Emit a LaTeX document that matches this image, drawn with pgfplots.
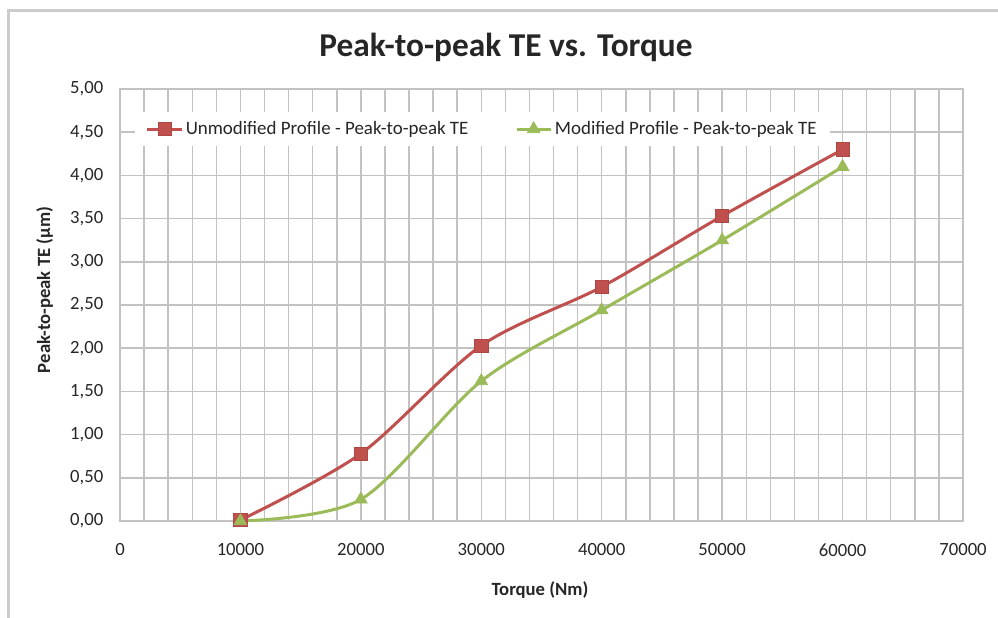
\documentclass[border=0pt]{standalone}
\usepackage{fontspec}
\setmainfont{Carlito}
\usepackage{pgfplots}
\pgfplotsset{compat=1.18}
\usetikzlibrary{calc}
\definecolor{redS}{HTML}{C0504D}
\definecolor{greenS}{HTML}{9BBB59}
\definecolor{gridc}{HTML}{C2C2C2}
\definecolor{framec}{HTML}{CCCCCC}
\definecolor{txt}{HTML}{262626}
\begin{document}
\begin{tikzpicture}
\begin{axis}[
  scale only axis, width=632.25pt, height=324pt,
  xmin=0, xmax=70000, ymin=0, ymax=5,
  xtick distance=10000, ytick distance=0.5,
  minor x tick num=4,
  xmajorgrids, xminorgrids, ymajorgrids,
  grid style={gridc, line width=1.1pt},
  minor grid style={gridc, line width=1.1pt},
  axis line style={gridc, line width=1.1pt},
  major tick length=0pt, minor tick length=0pt,
  scaled x ticks=false,
  tick label style={font=\fontsize{14}{17}\selectfont, text=txt},
  /pgf/number format/assume math mode=true,
  xticklabel style={/pgf/number format/1000 sep={}, yshift=-13.5pt},
  yticklabel style={/pgf/number format/.cd, fixed, fixed zerofill, precision=2, use comma, /tikz/.cd, xshift=-9pt},
  legend columns=2,
  legend style={at={(0.0178,0.947)}, anchor=north west, draw=none, fill=white,
    font=\fontsize{14.2}{17}\selectfont, text=txt, inner xsep=8pt, inner ysep=5pt,
    /tikz/every even column/.append style={column sep=33pt}},
  legend image code/.code={\draw[mark repeat=2, mark phase=2] plot coordinates {(0cm,0cm) (0.45cm,0cm) (0.9cm,0cm)};},
]
\coordinate (O) at (rel axis cs:0,0);
\addplot[redS, line width=2.25pt, smooth, tension=0.5, mark=square*, mark size=5pt, mark options={solid, fill=redS, draw=redS!90!black, line width=0.5pt}]
  coordinates {(10000,0.01) (20000,0.78) (30000,2.03) (40000,2.71) (50000,3.53) (60000,4.30)};
\addlegendentry{Unmodified Profile - Peak-to-peak TE}
\addplot[greenS, line width=2.25pt, smooth, tension=0.5, mark=triangle*, mark size=5.5pt, mark options={solid, fill=greenS, draw=greenS, line width=0.5pt}]
  coordinates {(10000,0.00) (20000,0.25) (30000,1.62) (40000,2.44) (50000,3.25) (60000,4.10)};
\addlegendentry{Modified Profile - Peak-to-peak TE}
\end{axis}
\coordinate (B) at ($(O)+(-90pt,-72pt)$);
\draw[framec, line width=2.25pt] ($(B)+(6.4pt,-2pt)$) -- ($(B)+(6.4pt,454.5pt)$) -- ($(B)+(752pt,454.5pt)$);
\node[anchor=base, font=\fontsize{25}{30}\selectfont\bfseries, text=txt] at ($(B)+(379.5pt,420pt)$) {Peak-to-peak TE vs. Torque};
\node[anchor=base, font=\fontsize{14}{17}\selectfont\bfseries, text=txt] at ($(B)+(405pt,16.5pt)$) {Torque (Nm)};
\node[rotate=90, font=\fontsize{14}{17}\selectfont\bfseries, text=txt] at ($(B)+(33.5pt,245.25pt)$) {Peak-to-peak TE (µm)};
\pgfresetboundingbox
\path[use as bounding box] (B) rectangle ($(B)+(748.5pt,462.75pt)$);
\end{tikzpicture}
\end{document}
